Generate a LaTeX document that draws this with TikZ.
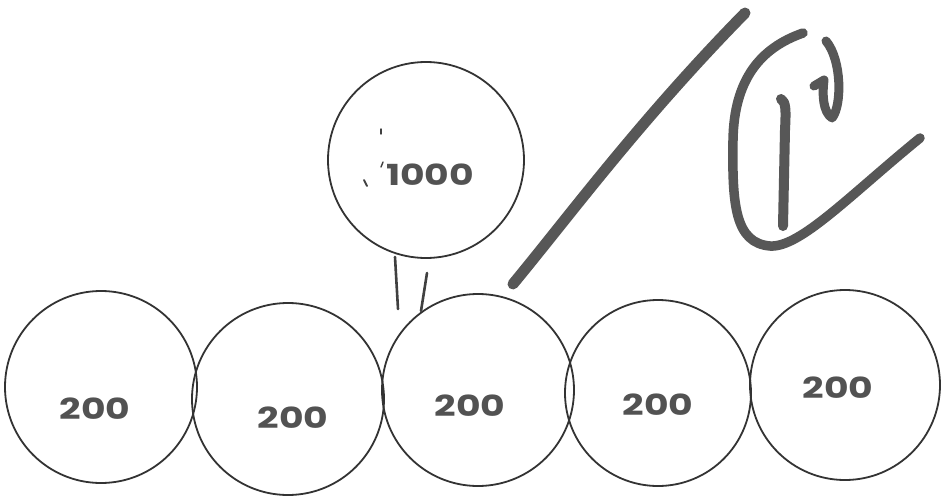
\documentclass[tikz,border=0pt]{standalone}
\usepackage{fontspec}
\newfontfamily\handfont{Poppins}
\begin{document}
\begin{tikzpicture}[x=1pt,y=-1pt,
  ring/.style={circle,draw=black!80,line width=1.8pt,inner sep=0pt},
  num/.style={font=\handfont\bfseries\fontsize{29}{29}\selectfont,text=black!68,xscale=1.3,inner sep=0pt},
  pen/.style={line width=2.6pt,draw=black!75,line cap=round},
  grade/.style={line width=11pt,draw=black!66,line cap=round,line join=round}]
\useasboundingbox[fill=white] (0,0) rectangle (948,498);
% top circle
\node[ring,minimum size=196pt] (top) at (426,160) {};
\node[num] (t1000) at (430,175) {1000};
% stray marks
\draw[pen,line width=1.8pt] (367,186) -- (364,180);
\draw[pen,line width=1.4pt] (383,162) -- (381,167);
\draw[pen,line width=1.4pt] (381,129) -- (381,134);
% bottom circles
\node[ring,minimum size=192pt] (c1) at (101,387) {};
\node[ring,minimum size=192pt] (c2) at (288,399) {};
\node[ring,minimum size=192pt] (c3) at (478,390) {};
\node[ring,minimum size=186pt] (c4) at (658,393) {};
\node[ring,minimum size=190pt] (c5) at (845,385) {};
\node[num] (n1) at (95,409) {200};
\node[num] (n2) at (293,418) {200};
\node[num] (n3) at (470,406) {200};
\node[num] (n4) at (658,405) {200};
\node[num] (n5) at (838,388) {200};
% equals sign between top and middle
\coordinate (e1a) at (395,257);
\coordinate (e1b) at (398,309);
\coordinate (e2a) at (427,273);
\coordinate (e2b) at (421,311);
\draw[pen] (e1a) -- (e1b);
\draw[pen] (e2a) -- (e2b);
% grade mark
\draw[grade] (513,284) .. controls (570,215) and (640,120) .. (745,13);
\draw[grade,line width=9.5pt] (803,33) .. controls (760,48) and (734,80) .. (733,140)
  .. controls (732,205) and (735,243) .. (770,246)
  .. controls (800,248) and (850,195) .. (920,138);
\draw[grade,line width=10pt] (781,99) .. controls (786,102) and (786,110) .. (785,130) -- (783,226);
\draw[grade,line width=9pt] (826,41) .. controls (842,60) and (842,106) .. (832,118)
  .. controls (823,112) and (822,95) .. (824,80) -- (814,86);
\end{tikzpicture}
\end{document}
